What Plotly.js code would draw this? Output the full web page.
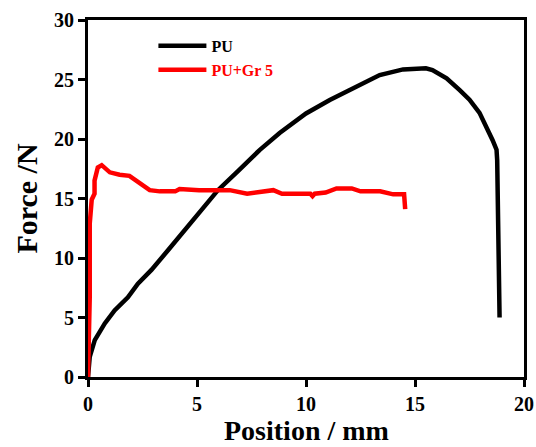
<!DOCTYPE html>
<html>
<head>
<meta charset="utf-8">
<script src="https://cdn.plot.ly/plotly-3.0.1.min.js"></script>
<style>html,body{margin:0;padding:0;background:#fff;}#chart{width:536px;height:447px;}</style>
</head>
<body>
<div id="chart"></div>
<script>
// PU series (Position mm, Force N)
const puX = [0, 0.08, 0.31, 0.77, 1.22, 1.83, 2.29, 2.91, 3.67, 4.44, 5.2, 5.96, 6.88, 7.87, 8.79, 10.0, 11.09, 12.3, 13.38, 14.45, 15.0, 15.5, 15.8, 16.45, 17.05, 17.5, 17.96, 18.3, 18.56, 18.74, 18.77, 18.88];
const puY = [0, 1.7, 3.1, 4.5, 5.6, 6.7, 7.85, 9.0, 10.65, 12.3, 14.0, 15.7, 17.3, 19.07, 20.5, 22.15, 23.27, 24.4, 25.37, 25.85, 25.94, 25.94, 25.8, 25.1, 24.1, 23.3, 22.2, 21.0, 19.9, 19.1, 18.2, 5.0];
// PU+Gr 5 series
const grX = [0, 0.08, 0.08, 0.1, 0.17, 0.3, 0.3, 0.45, 0.63, 1.0, 1.45, 1.9, 2.37, 2.83, 3.29, 4.0, 4.2, 5.1, 6.5, 7.3, 8.5, 8.9, 10.2, 10.3, 10.4, 10.9, 11.4, 12.1, 12.5, 13.4, 14.0, 14.5, 14.55];
const grY = [0, 6.7, 12.9, 13.2, 14.9, 15.4, 16.5, 17.6, 17.8, 17.2, 17.0, 16.9, 16.3, 15.7, 15.6, 15.6, 15.8, 15.7, 15.7, 15.4, 15.7, 15.4, 15.4, 15.2, 15.4, 15.5, 15.85, 15.85, 15.6, 15.6, 15.35, 15.35, 14.1];
const xTicks = [0, 5, 10, 15, 20];
const yTicks = [0, 5, 10, 15, 20, 25, 30];
const xTitle = 'Position / mm';
const yTitle = 'Force /N';

const serif = "'Liberation Serif', 'Times New Roman', serif";
const traces = [
  {x: puX, y: puY, mode: 'lines', name: 'PU', line: {color: '#000000', width: 4.5}},
  {x: grX, y: grY, mode: 'lines', name: '<span style="color:#ff0000">PU+Gr 5</span>', line: {color: '#ff0000', width: 4.5}}
];
const axisCommon = {
  showgrid: false, zeroline: false, showline: true, linecolor: '#000', linewidth: 3,
  mirror: true, ticks: 'outside', ticklen: 7, tickwidth: 3, tickcolor: '#000',
  tickfont: {family: serif, size: 20, color: '#000', weight: 'bold'}
};
const layout = {
  width: 536, height: 447,
  margin: {l: 88, r: 12, t: 20, b: 70},
  paper_bgcolor: '#fff', plot_bgcolor: '#fff',
  showlegend: true,
  legend: {x: 0.15, y: 0.975, xanchor: 'left', yanchor: 'top', bgcolor: 'rgba(0,0,0,0)', itemwidth: 48,
    font: {family: serif, size: 16, color: '#000', weight: 'bold'}, tracegroupgap: 0},
  xaxis: Object.assign({}, axisCommon, {range: [0, 20], tickvals: xTicks, ticktext: xTicks.map(String), automargin: false}),
  yaxis: Object.assign({}, axisCommon, {range: [0, 30], tickvals: yTicks, ticktext: yTicks.map(String), automargin: false,
    title: {text: yTitle, font: {family: serif, size: 30, color: '#000', weight: 'bold'}, standoff: 8}}),
  annotations: [{
    text: xTitle, xref: 'paper', yref: 'paper', x: 0.5, y: 0, xanchor: 'center', yanchor: 'top',
    yshift: -36, showarrow: false, font: {family: serif, size: 28, color: '#000', weight: 'bold'}
  }]
};
Plotly.newPlot('chart', traces, layout, {displayModeBar: false, staticPlot: true});
</script>
</body>
</html>
